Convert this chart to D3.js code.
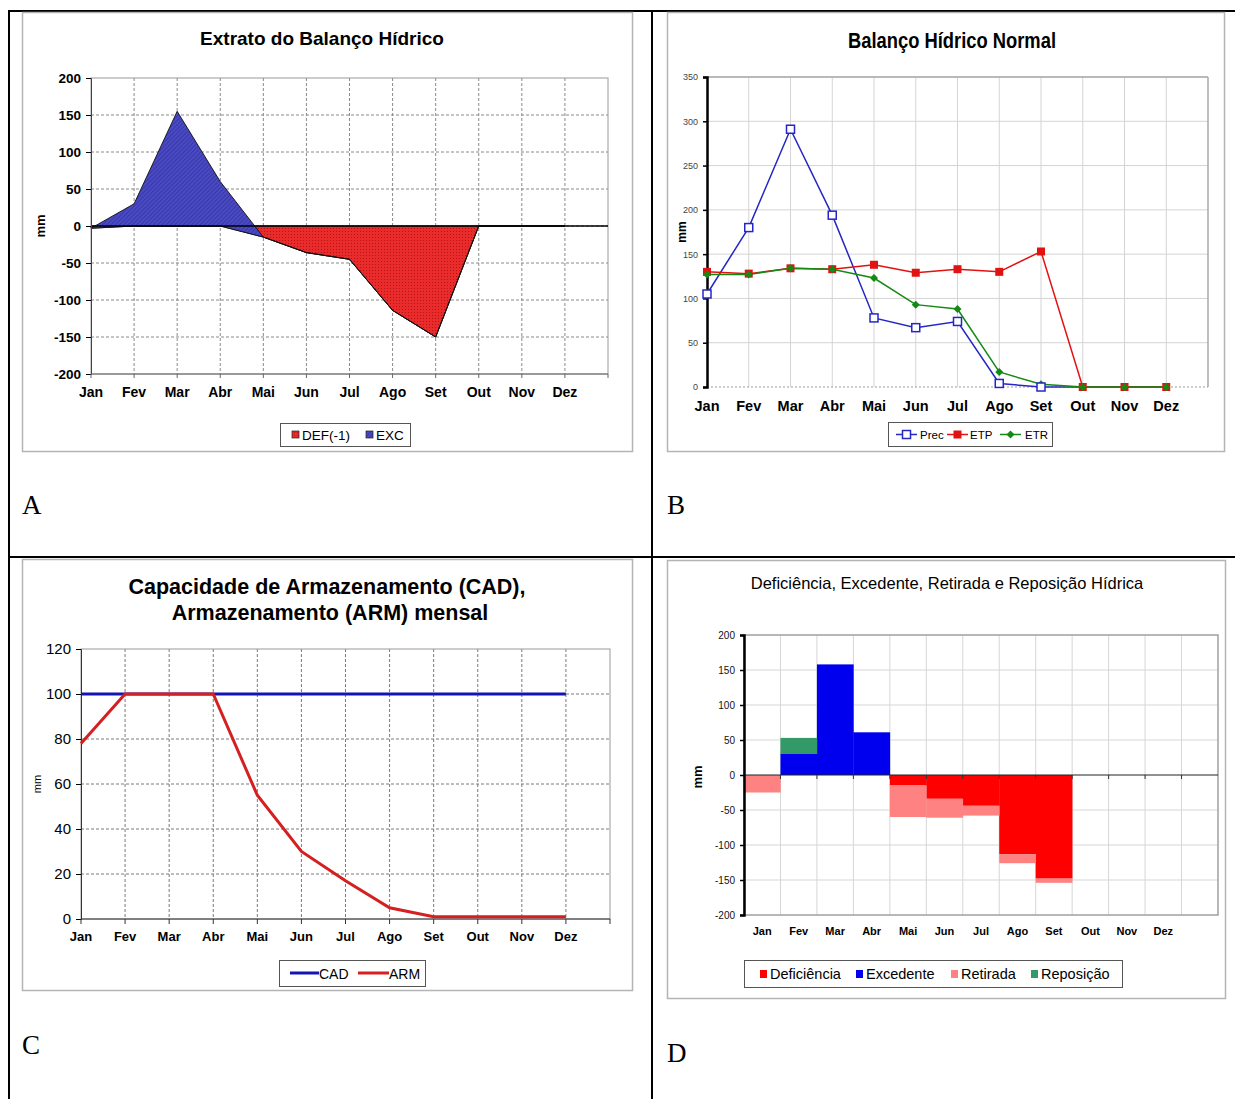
<!DOCTYPE html>
<html><head><meta charset="utf-8">
<script src="https://cdn.jsdelivr.net/npm/d3@7"></script>
<style>
body{margin:0;background:#fff;}
svg{display:block;font-family:"Liberation Sans",Arial,sans-serif;}
</style></head><body>
<svg id="c" width="1235" height="1099"></svg>
<script>
// ---------- DATA ----------
const months = ["Jan","Fev","Mar","Abr","Mai","Jun","Jul","Ago","Set","Out","Nov","Dez"];
// Panel A: Extrato do Balanço Hídrico
const aTicks = [-200,-150,-100,-50,0,50,100,150,200];
const aDef = [-3,0,0,0,-15,-36,-45,-114,-150,0,0,0];
const aExc = [0,30,155,60,0,0,0,0,0,0,0,0];
// Panel B: Balanço Hídrico Normal
const bTicks = [0,50,100,150,200,250,300,350];
const bPrec = [105,180,291,194,78,67,74,4,0,0,0,0];
const bEtp  = [130,128,134,133,138,129,133,130,153,0,0,0];
const bEtr  = [127,127,134,133,123,93,88,17,3,0,0,0];
// Panel C: CAD / ARM
const cTicks = [0,20,40,60,80,100,120];
const cCad = [100,100,100,100,100,100,100,100,100,100,100,100];
const cArm = [78,100,100,100,55,30,17,5,1,1,1,1];
// Panel D: Deficiência, Excedente, Retirada e Reposição
const dTicks = [-200,-150,-100,-50,0,50,100,150,200];
const dDef = [0,0,0,0,-15,-34,-44,-113,-148,0,0,0];
const dExc = [0,30,158,61,0,0,0,0,0,0,0,0];
const dRet = [-25,0,0,0,-45,-27,-14,-13,-6,0,0,0];
const dRep = [0,23,0,0,0,0,0,0,0,0,0,0];

const svg = d3.select("#c");
const FONT = '"Liberation Sans",Arial,sans-serif';
const NARROW = '"Liberation Sans Narrow","Arial Narrow","Liberation Sans",Arial,sans-serif';
const fmt = d => String(d);

// patterns
const defs = svg.append("defs");
const ph = defs.append("pattern").attr("id","hatch").attr("patternUnits","userSpaceOnUse")
  .attr("width",3).attr("height",3).attr("patternTransform","rotate(45)");
ph.append("rect").attr("width",3).attr("height",3).attr("fill","#4a4ac4");
ph.append("line").attr("x1",0).attr("y1",0).attr("x2",0).attr("y2",3).attr("stroke","#2c2c96").attr("stroke-width",1.2);
const pd = defs.append("pattern").attr("id","dots").attr("patternUnits","userSpaceOnUse")
  .attr("width",3).attr("height",3);
pd.append("rect").attr("width",3).attr("height",3).attr("fill","#ea2b2b");
pd.append("rect").attr("width",1).attr("height",1).attr("fill","#b81414");

// ---------- TABLE FRAME ----------
const frame = svg.append("g").attr("stroke","#000").attr("stroke-width",2);
frame.append("line").attr("x1",8).attr("y1",11).attr("x2",1235).attr("y2",11);
frame.append("line").attr("x1",9).attr("y1",10).attr("x2",9).attr("y2",1099);
frame.append("line").attr("x1",652).attr("y1",10).attr("x2",652).attr("y2",1099);
frame.append("line").attr("x1",8).attr("y1",557).attr("x2",1235).attr("y2",557);

const serif = '"Liberation Serif","Times New Roman",serif';
[["A",22,514],["B",667,514],["C",22,1054],["D",667,1062]].forEach(([t,x,y])=>{
  svg.append("text").attr("x",x).attr("y",y).attr("font-family",serif).attr("font-size",27).text(t);
});

function box(x,y,w,h){
  svg.append("rect").attr("x",x).attr("y",y).attr("width",w).attr("height",h)
    .attr("fill","#fff").attr("stroke","#b4b4b4").attr("stroke-width",1.5);
}

// ---------- PANEL A ----------
(function(){
  box(22.5,12.5,610,439);
  const g = svg.append("g");
  const x = d3.scaleLinear().domain([0,12]).range([91,608]);
  const y = d3.scaleLinear().domain([-200,200]).range([374,78]);
  g.append("text").attr("x",322).attr("y",45).attr("text-anchor","middle")
    .attr("font-weight","bold").attr("font-size",19).text("Extrato do Balanço Hídrico");
  g.selectAll(".hg").data(aTicks.filter(t=>t>-200&&t<200)).enter().append("line")
    .attr("x1",x(0)).attr("x2",x(12)).attr("y1",d=>y(d)).attr("y2",d=>y(d))
    .attr("stroke","#8a8a8a").attr("stroke-dasharray","3,2");
  g.selectAll(".vg").data(d3.range(1,12)).enter().append("line")
    .attr("x1",d=>x(d)).attr("x2",d=>x(d)).attr("y1",y(200)).attr("y2",y(-200))
    .attr("stroke","#8a8a8a").attr("stroke-dasharray","3,2");
  g.append("rect").attr("x",x(0)).attr("y",y(200)).attr("width",x(12)-x(0)).attr("height",y(-200)-y(200))
    .attr("fill","none").attr("stroke","#9a9a9a");
  const idx = d3.range(12);
  const defArea = d3.area().x(i=>x(i)).y0(y(0)).y1(i=>y(aDef[i]));
  g.append("path").attr("d",defArea(idx)).attr("fill","url(#dots)").attr("stroke","#111").attr("stroke-width",0.9);
  const excArea = d3.area().x(i=>x(i)).y0(i=>y(aDef[i])).y1(i=>y(aDef[i]+aExc[i]));
  g.append("path").attr("d",excArea(idx)).attr("fill","url(#hatch)").attr("stroke","#111").attr("stroke-width",0.9);
  g.append("line").attr("x1",x(0)).attr("x2",x(12)).attr("y1",y(0)).attr("y2",y(0)).attr("stroke","#000").attr("stroke-width",1.3);
  const ya = g.append("g").attr("transform",`translate(${x(0)},0)`)
    .call(d3.axisLeft(y).tickValues(aTicks).tickFormat(fmt).tickSize(5).tickPadding(5));
  ya.select(".domain").attr("stroke","#444");
  ya.selectAll("text").attr("font-family",FONT).attr("font-size",13.5).attr("font-weight","bold").attr("fill","#000");
  g.append("line").attr("x1",x(0)).attr("x2",x(12)).attr("y1",y(-200)).attr("y2",y(-200)).attr("stroke","#666");
  g.selectAll(".xt").data(d3.range(13)).enter().append("line")
    .attr("x1",d=>x(d)).attr("x2",d=>x(d)).attr("y1",y(-200)).attr("y2",y(-200)+4).attr("stroke","#666");
  g.selectAll(".xl").data(months).enter().append("text")
    .attr("x",(d,i)=>x(i)).attr("y",397).attr("text-anchor","middle")
    .attr("font-weight","bold").attr("font-size",14).text(d=>d);
  g.append("text").attr("transform","translate(45,226) rotate(-90)").attr("text-anchor","middle")
    .attr("font-weight","bold").attr("font-size",13).text("mm");
  g.append("rect").attr("x",280.5).attr("y",423.5).attr("width",130).attr("height",23).attr("fill","#fff").attr("stroke","#555");
  g.append("rect").attr("x",292).attr("y",431).attr("width",7).attr("height",7).attr("fill","url(#dots)").attr("stroke","#222").attr("stroke-width",0.7);
  g.append("text").attr("x",302).attr("y",440).attr("font-size",13.5).text("DEF(-1)");
  g.append("rect").attr("x",366).attr("y",431).attr("width",7).attr("height",7).attr("fill","url(#hatch)").attr("stroke","#222").attr("stroke-width",0.7);
  g.append("text").attr("x",376).attr("y",440).attr("font-size",13.5).text("EXC");
})();

// ---------- PANEL B ----------
(function(){
  box(667.5,12.5,557,439);
  const g = svg.append("g");
  const x = d3.scaleLinear().domain([0,12]).range([707,1208]);
  const y = d3.scaleLinear().domain([0,350]).range([387,77]);
  g.append("text").attr("x",952).attr("y",48).attr("text-anchor","middle").attr("font-family",NARROW)
    .attr("font-weight","bold").attr("font-size",21.5)
    .attr("textLength",208).attr("lengthAdjust","spacingAndGlyphs").text("Balanço Hídrico Normal");
  g.selectAll(".hg").data(bTicks.filter(t=>t>0)).enter().append("line")
    .attr("x1",x(0)).attr("x2",x(12)).attr("y1",d=>y(d)).attr("y2",d=>y(d)).attr("stroke","#d4d4d4");
  g.selectAll(".vg").data(d3.range(1,12)).enter().append("line")
    .attr("x1",d=>x(d)).attr("x2",d=>x(d)).attr("y1",y(350)).attr("y2",y(0)).attr("stroke","#d4d4d4");
  g.append("line").attr("x1",x(12)).attr("x2",x(12)).attr("y1",y(350)).attr("y2",y(0)).attr("stroke","#a8a8a8").attr("stroke-width",1.5);
  g.append("line").attr("x1",x(0)).attr("x2",x(12)).attr("y1",y(350)).attr("y2",y(350)).attr("stroke","#a8a8a8").attr("stroke-width",1.5);
  g.append("line").attr("x1",x(0)).attr("x2",x(12)).attr("y1",y(0)).attr("y2",y(0)).attr("stroke","#999").attr("stroke-dasharray","2,2");
  const ya = g.append("g").attr("transform",`translate(${x(0)},0)`)
    .call(d3.axisLeft(y).tickValues(bTicks).tickFormat(fmt).tickSize(4).tickPadding(5));
  ya.select(".domain").attr("stroke","#000").attr("stroke-width",2.5);
  ya.selectAll(".tick line").attr("stroke","#000").attr("stroke-width",1.5);
  ya.selectAll("text").attr("font-family",FONT).attr("font-size",9).attr("fill","#444");
  g.selectAll(".xl").data(months).enter().append("text")
    .attr("x",(d,i)=>x(i)).attr("y",411).attr("text-anchor","middle").attr("font-family",NARROW)
    .attr("font-weight","bold").attr("font-size",14.5).text(d=>d);
  g.append("text").attr("transform","translate(686,232) rotate(-90)").attr("text-anchor","middle")
    .attr("font-weight","bold").attr("font-size",12).text("mm");
  const line = d3.line().x((d,i)=>x(i)).y(d=>y(d));
  const series = [
    {v:bPrec,c:"#2626c4",m:"open"},
    {v:bEtp,c:"#e31212",m:"sq"},
    {v:bEtr,c:"#138a13",m:"dia"}];
  series.forEach(s=>{
    g.append("path").attr("d",line(s.v)).attr("fill","none").attr("stroke",s.c).attr("stroke-width",1.5);
  });
  function marker(gg,m,c,cx,cy){
    if(m==="open") gg.append("rect").attr("x",cx-4).attr("y",cy-4).attr("width",8).attr("height",8).attr("fill","#fff").attr("stroke",c).attr("stroke-width",1.5);
    else if(m==="sq") gg.append("rect").attr("x",cx-4).attr("y",cy-4).attr("width",8).attr("height",8).attr("fill",c);
    else gg.append("path").attr("d",`M${cx},${cy-4}L${cx+4},${cy}L${cx},${cy+4}L${cx-4},${cy}Z`).attr("fill",c);
  }
  [series[1],series[2],series[0]].forEach(s=>{
    s.v.forEach((d,i)=>{
      if(s.m==="open" && i>8) return;
      marker(g,s.m,s.c,x(i),y(d));
    });
  });
  g.append("rect").attr("x",888.5).attr("y",422.5).attr("width",164).attr("height",24).attr("fill","#fff").attr("stroke","#555");
  const ly = 434.5;
  [[896,"#2626c4","open","Prec",920],[947,"#e31212","sq","ETP",970],[1000,"#138a13","dia","ETR",1025]].forEach(([lx,c,m,t,tx])=>{
    g.append("line").attr("x1",lx).attr("x2",lx+21).attr("y1",ly).attr("y2",ly).attr("stroke",c).attr("stroke-width",1.5);
    marker(g,m,c,lx+10.5,ly);
    g.append("text").attr("x",tx).attr("y",ly+4).attr("font-family",NARROW).attr("font-size",11.5).text(t);
  });
})();

// ---------- PANEL C ----------
(function(){
  box(22.5,559.5,610,431);
  const g = svg.append("g");
  const x = d3.scaleLinear().domain([0,12]).range([81,610]);
  const y = d3.scaleLinear().domain([0,120]).range([919,649]);
  g.append("text").attr("x",327).attr("y",594).attr("text-anchor","middle")
    .attr("font-weight","bold").attr("font-size",21.5).text("Capacidade de Armazenamento (CAD),");
  g.append("text").attr("x",330).attr("y",620).attr("text-anchor","middle")
    .attr("font-weight","bold").attr("font-size",21.5).text("Armazenamento (ARM) mensal");
  g.selectAll(".hg").data(cTicks.filter(t=>t>0&&t<120)).enter().append("line")
    .attr("x1",x(0)).attr("x2",x(12)).attr("y1",d=>y(d)).attr("y2",d=>y(d))
    .attr("stroke","#7a7a7a").attr("stroke-dasharray","3,2");
  g.selectAll(".vg").data(d3.range(1,12)).enter().append("line")
    .attr("x1",d=>x(d)).attr("x2",d=>x(d)).attr("y1",y(120)).attr("y2",y(0))
    .attr("stroke","#7a7a7a").attr("stroke-dasharray","3,2");
  g.append("rect").attr("x",x(0)).attr("y",y(120)).attr("width",x(12)-x(0)).attr("height",y(0)-y(120))
    .attr("fill","none").attr("stroke","#9a9a9a");
  const ya = g.append("g").attr("transform",`translate(${x(0)},0)`)
    .call(d3.axisLeft(y).tickValues(cTicks).tickFormat(fmt).tickSize(5).tickPadding(5));
  ya.select(".domain").attr("stroke","#333");
  ya.selectAll("text").attr("font-family",FONT).attr("font-size",15).attr("fill","#000");
  g.append("line").attr("x1",x(0)).attr("x2",x(12)).attr("y1",y(0)).attr("y2",y(0)).attr("stroke","#333");
  g.selectAll(".xt").data(d3.range(13)).enter().append("line")
    .attr("x1",d=>x(d)).attr("x2",d=>x(d)).attr("y1",y(0)).attr("y2",y(0)+5).attr("stroke","#333");
  g.selectAll(".xl").data(months).enter().append("text")
    .attr("x",(d,i)=>x(i)).attr("y",941).attr("text-anchor","middle")
    .attr("font-weight","bold").attr("font-size",13).text(d=>d);
  g.append("text").attr("transform","translate(41,784) rotate(-90)").attr("text-anchor","middle")
    .attr("font-size",11).text("mm");
  const line = d3.line().x((d,i)=>x(i)).y(d=>y(d));
  g.append("path").attr("d",line(cCad)).attr("fill","none").attr("stroke","#1414b4").attr("stroke-width",3);
  g.append("path").attr("d",line(cArm)).attr("fill","none").attr("stroke","#d42020").attr("stroke-width",3);
  g.append("rect").attr("x",279.5).attr("y",960.5).attr("width",146).attr("height",26).attr("fill","#fff").attr("stroke","#555");
  g.append("line").attr("x1",290).attr("x2",319).attr("y1",973).attr("y2",973).attr("stroke","#1414b4").attr("stroke-width",3);
  g.append("text").attr("x",319).attr("y",978.5).attr("font-size",14).text("CAD");
  g.append("line").attr("x1",358).attr("x2",389).attr("y1",973).attr("y2",973).attr("stroke","#d42020").attr("stroke-width",3);
  g.append("text").attr("x",389).attr("y",978.5).attr("font-size",14).text("ARM");
})();

// ---------- PANEL D ----------
(function(){
  box(667.5,560.5,558,438);
  const g = svg.append("g");
  const x = d3.scaleBand().domain([...months,"_"]).range([744,1218]).padding(0);
  const y = d3.scaleLinear().domain([-200,200]).range([915,635]);
  g.append("text").attr("x",947).attr("y",589).attr("text-anchor","middle")
    .attr("font-size",16.5).text("Deficiência, Excedente, Retirada e Reposição Hídrica");
  g.selectAll(".hg").data(dTicks.filter(t=>t>-200&&t<200&&t!==0)).enter().append("line")
    .attr("x1",744).attr("x2",1218).attr("y1",d=>y(d)).attr("y2",d=>y(d)).attr("stroke","#d6d6d6");
  g.selectAll(".vg").data(months).enter().append("line")
    .attr("x1",d=>x(d)+x.bandwidth()).attr("x2",d=>x(d)+x.bandwidth()).attr("y1",y(200)).attr("y2",y(-200)).attr("stroke","#d6d6d6");
  g.append("rect").attr("x",744).attr("y",y(200)).attr("width",1218-744).attr("height",y(-200)-y(200))
    .attr("fill","none").attr("stroke","#a0a0a0").attr("stroke-width",1.5);
  const keys = ["def","exc","ret","rep"];
  const colors = {def:"#ff0000",exc:"#0000ee",ret:"#ff8282",rep:"#339966"};
  const rows = months.map((m,i)=>({m,def:dDef[i],exc:dExc[i],ret:dRet[i],rep:dRep[i]}));
  const stack = d3.stack().keys(keys).offset(d3.stackOffsetDiverging)(rows);
  stack.forEach(s=>{
    g.selectAll(null).data(s.filter(d=>d[0]!==d[1])).enter().append("rect")
      .attr("x",d=>x(d.data.m)).attr("width",x.bandwidth()+0.3)
      .attr("y",d=>y(Math.max(d[0],d[1]))).attr("height",d=>Math.abs(y(d[0])-y(d[1])))
      .attr("fill",colors[s.key]);
  });
  g.append("line").attr("x1",744).attr("x2",1218).attr("y1",y(0)).attr("y2",y(0)).attr("stroke","#222").attr("stroke-width",1.2);
  g.selectAll(".zt").data(months).enter().append("line")
    .attr("x1",d=>x(d)+x.bandwidth()).attr("x2",d=>x(d)+x.bandwidth()).attr("y1",y(0)).attr("y2",y(0)+4).attr("stroke","#333");
  const ya = g.append("g").attr("transform",`translate(744,0)`)
    .call(d3.axisLeft(y).tickValues(dTicks).tickFormat(fmt).tickSize(4).tickPadding(5));
  ya.select(".domain").attr("stroke","#000").attr("stroke-width",2.5);
  ya.selectAll(".tick line").attr("stroke","#000").attr("stroke-width",1.5);
  ya.selectAll("text").attr("font-family",FONT).attr("font-size",10).attr("fill","#111");
  g.selectAll(".xl").data(months).enter().append("text")
    .attr("x",d=>x(d)+x.bandwidth()/2).attr("y",935).attr("text-anchor","middle")
    .attr("font-weight","bold").attr("font-size",11).text(d=>d);
  g.append("text").attr("transform","translate(702,777) rotate(-90)").attr("text-anchor","middle")
    .attr("font-weight","bold").attr("font-size",13).text("mm");
  g.append("rect").attr("x",744.5).attr("y",960.5).attr("width",378).attr("height",27).attr("fill","#fff").attr("stroke","#555");
  [["Deficiência","#ff0000",760],["Excedente","#0000ee",856],["Retirada","#ff8282",951],["Reposição","#339966",1031]].forEach(([t,c,lx])=>{
    g.append("rect").attr("x",lx).attr("y",970).attr("width",7).attr("height",8).attr("fill",c);
    g.append("text").attr("x",lx+10).attr("y",979).attr("font-size",14.5).text(t);
  });
})();
</script>
</body></html>
